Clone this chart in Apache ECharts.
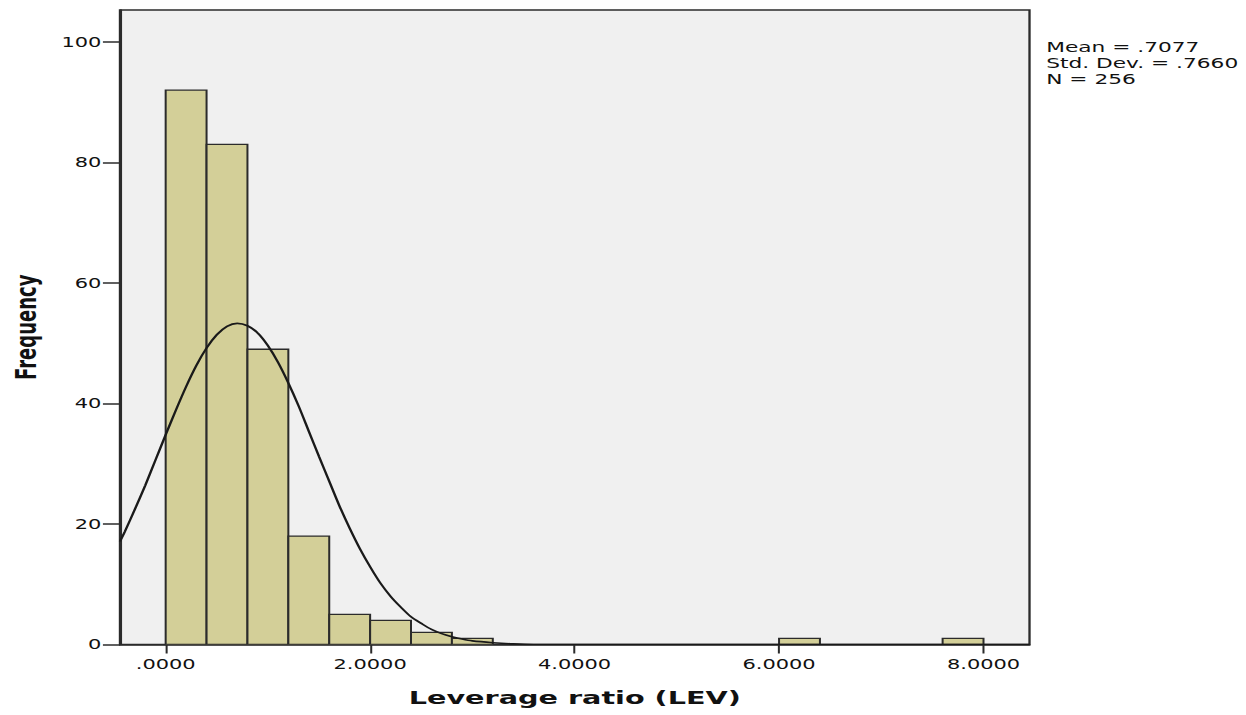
<!DOCTYPE html>
<html>
<head>
<meta charset="utf-8">
<script src="https://cdn.jsdelivr.net/npm/echarts@6/dist/echarts.min.js"></script>
<style>
  html, body { margin: 0; padding: 0; background: #ffffff; overflow: hidden; }
  /* The chart is laid out narrow and widened horizontally, giving the wide glyphs and lines of the original output */
  #chart { width: 804px; height: 715px; transform: scaleX(1.55); transform-origin: 0 0; }
</style>
</head>
<body>
<div id="chart"></div>
<script>
// Histogram bins (left edge of each bin, common width) and frequencies
const binStarts = [0.0, 0.4, 0.8, 1.2, 1.6, 2.0, 2.4, 2.8, 6.0, 7.6];
const binWidth = 0.4;
const frequencies = [92, 83, 49, 18, 5, 4, 2, 1, 1, 1];

// Fitted normal curve, sampled along the x axis
const curveX = [-0.447, -0.4, -0.3, -0.2, -0.1, 0.0, 0.1, 0.2, 0.3, 0.4, 0.5, 0.6, 0.7, 0.8, 0.9, 1.0,
                1.1, 1.2, 1.3, 1.4, 1.5, 1.6, 1.7, 1.8, 1.9, 2.0, 2.1, 2.2, 2.3, 2.4, 2.5, 2.6, 2.7, 2.8,
                2.9, 3.0, 3.2, 3.4, 3.6, 4.0, 8.45];
const curveY = [17.1, 18.7, 22.5, 26.4, 30.6, 34.8, 38.9, 42.8, 46.3, 49.2, 51.4, 52.8, 53.3, 52.9, 51.7, 49.6,
                46.8, 43.4, 39.6, 35.4, 31.2, 27.1, 23.0, 19.3, 15.9, 12.9, 10.2, 8.0, 6.2, 4.6, 3.5, 2.5, 1.8, 1.3,
                0.9, 0.6, 0.3, 0.1, 0.0, 0.0, 0.0];

// Axis ticks and labels
const xTicks = [0, 2, 4, 6, 8];
const xTickLabels = ['.0000', '2.0000', '4.0000', '6.0000', '8.0000'];
const yTicks = [0, 20, 40, 60, 80, 100];
const yTickLabels = ['0', '20', '40', '60', '80', '100'];

const xAxisTitle = 'Leverage ratio (LEV)';
const yAxisTitle = 'Frequency';
const statLines = ['Mean = .7077', 'Std. Dev. = .7660', 'N = 256'];

const histData = binStarts.map((s, i) => [s, s + binWidth, frequencies[i]]);
const curveData = curveX.map((x, i) => [x, curveY[i]]);

const ink = '#2b2b2b';
const font = 'DejaVu Sans';

const chart = echarts.init(document.getElementById('chart'), null, { renderer: 'svg' });

chart.setOption({
  animation: false,
  backgroundColor: '#ffffff',
  title: {
    text: statLines.join('\n'),
    left: 675,
    top: 39,
    padding: 0,
    textStyle: {
      fontFamily: font,
      fontSize: 14,
      fontWeight: 'normal',
      color: '#111111',
      lineHeight: 16
    }
  },
  grid: {
    left: 77.4,
    right: 139.8,
    top: 10,
    bottom: 70.5,
    containLabel: false,
    outerBoundsMode: 'none',
    show: true,
    backgroundColor: '#f0f0f0',
    borderColor: ink,
    borderWidth: 1.5
  },
  xAxis: {
    type: 'value',
    min: -0.447,
    max: 8.45,
    name: xAxisTitle,
    nameLocation: 'middle',
    nameGap: 44,
    nameTextStyle: { fontFamily: font, fontSize: 18.5, fontWeight: 'bold', color: '#111111' },
    axisLine: { show: true, onZero: false, lineStyle: { color: ink, width: 1.5 } },
    axisTick: { show: true, length: 9, customValues: xTicks, lineStyle: { color: ink, width: 1.3 } },
    axisLabel: {
      customValues: xTicks,
      margin: 13,
      fontFamily: font,
      fontSize: 13.5,
      color: '#111111',
      formatter: v => xTickLabels[xTicks.indexOf(v)]
    },
    splitLine: { show: false }
  },
  yAxis: {
    type: 'value',
    min: 0,
    max: 105.3,
    name: yAxisTitle,
    nameLocation: 'middle',
    nameGap: 51,
    nameTextStyle: { fontFamily: font, fontSize: 18, fontWeight: 'bold', color: '#111111' },
    axisLine: { show: true, onZero: false, lineStyle: { color: ink, width: 1.5 } },
    axisTick: { show: true, length: 11, customValues: yTicks, lineStyle: { color: ink, width: 1.5 } },
    axisLabel: {
      customValues: yTicks,
      margin: 12,
      fontFamily: font,
      fontSize: 13.5,
      color: '#111111',
      formatter: v => yTickLabels[yTicks.indexOf(v)]
    },
    splitLine: { show: false }
  },
  series: [
    {
      type: 'custom',
      data: histData,
      encode: { x: [0, 1], y: 2 },
      clip: true,
      renderItem: function (params, api) {
        const p0 = api.coord([api.value(0), api.value(2)]);
        const p1 = api.coord([api.value(1), 0]);
        return {
          type: 'rect',
          shape: { x: p0[0], y: p0[1], width: p1[0] - p0[0], height: p1[1] - p0[1] },
          style: { fill: '#d3cf98', stroke: ink, lineWidth: 1.3 }
        };
      },
      z: 2
    },
    {
      type: 'line',
      data: curveData,
      smooth: 0.3,
      symbol: 'none',
      clip: true,
      lineStyle: { color: '#1a1a1a', width: 1.6 },
      z: 3
    }
  ]
});
</script>
</body>
</html>
